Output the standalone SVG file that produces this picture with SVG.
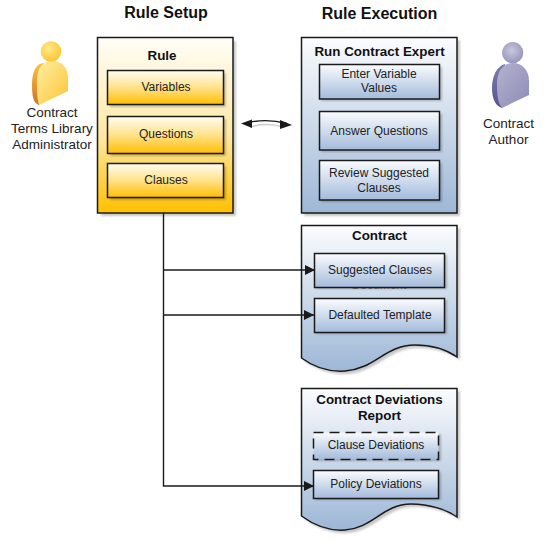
<svg xmlns="http://www.w3.org/2000/svg" width="555" height="543" viewBox="0 0 555 543">
<style>
text{font-family:"Liberation Sans",Arial,sans-serif;font-size:12px;fill:#222;text-anchor:middle}
.h{font-size:16px;font-weight:bold;fill:#111}
.t{font-size:13.4px;font-weight:bold;fill:#111}
.p{font-size:13.5px}
.box{stroke:#1a1a1a;stroke-width:1.5}
.y1{fill:url(#yOuter)}.y2{fill:url(#yInner)}
.b1{fill:url(#bOuter)}.b2{fill:url(#bInner)}
.sh{fill:#000;opacity:.22;filter:url(#blur)}
.c{fill:none;stroke:#1a1a1a;stroke-width:1.4}
</style>
<defs>
<filter id="blur" x="-10%" y="-10%" width="120%" height="120%"><feGaussianBlur stdDeviation="0.8"/></filter>
<linearGradient id="yOuter" x1="0" y1="0" x2="0" y2="1"><stop offset="0" stop-color="#fffef8"/><stop offset=".55" stop-color="#ffe9a6"/><stop offset="1" stop-color="#ffc000"/></linearGradient>
<linearGradient id="yInner" x1="0" y1="0" x2="0" y2="1"><stop offset="0" stop-color="#fffdf2"/><stop offset=".5" stop-color="#ffe28a"/><stop offset="1" stop-color="#ffbe00"/></linearGradient>
<linearGradient id="bOuter" x1="0" y1="0" x2="0" y2="1"><stop offset="0" stop-color="#fbfcfe"/><stop offset="1" stop-color="#9db7d6"/></linearGradient>
<linearGradient id="bInner" x1="0" y1="0" x2="0" y2="1"><stop offset="0" stop-color="#fbfcfe"/><stop offset="1" stop-color="#a3bbdb"/></linearGradient>
<linearGradient id="yBody" x1="0" y1="0" x2="1" y2="1"><stop offset="0" stop-color="#ffeea6"/><stop offset="1" stop-color="#fdc531"/></linearGradient>
<linearGradient id="ySide" x1="0" y1="0" x2="0" y2="1"><stop offset="0" stop-color="#fcc53a"/><stop offset="1" stop-color="#d0702a"/></linearGradient>
<radialGradient id="yHead" cx=".4" cy=".35" r=".7"><stop offset="0" stop-color="#ffe98e"/><stop offset="1" stop-color="#fcc32b"/></radialGradient>
<linearGradient id="pBody" x1="0" y1="0" x2="1" y2="1"><stop offset="0" stop-color="#b4b3cf"/><stop offset="1" stop-color="#8c8bb5"/></linearGradient>
<linearGradient id="pSide" x1="0" y1="0" x2="0" y2="1"><stop offset="0" stop-color="#7e7db0"/><stop offset="1" stop-color="#55548f"/></linearGradient>
<radialGradient id="pHead" cx=".45" cy=".4" r=".7"><stop offset="0" stop-color="#c9c8dd"/><stop offset="1" stop-color="#8e8db6"/></radialGradient>
<marker id="a" markerWidth="12" markerHeight="10" refX="10" refY="5" orient="auto" markerUnits="userSpaceOnUse"><path d="M0 0L10 5L0 10Z" fill="#1a1a1a"/></marker>
</defs>

<text class="h" x="166" y="18">Rule Setup</text>
<text class="h" x="379.500" y="19">Rule Execution</text>

<g id="admin">
<path d="M39 105C33 103 32 96 32 84C32 72 36 63 44 63L50 90Z" fill="url(#ySide)"/>
<path d="M39 105L68 91V78C68 66 60 61 52 61C43 61 37 68 37 80C37 92 37 99 39 105Z" fill="url(#yBody)"/>
<circle cx="51" cy="51.500" r="10.300" fill="url(#yHead)"/>
<text class="p" x="52" y="117">Contract</text>
<text class="p" x="52" y="133">Terms Library</text>
<text class="p" x="52" y="149">Administrator</text>
</g>

<g id="author">
<path d="M502 108C496 106 492 100 492 88C492 76 497 66 505 64L512 90Z" fill="url(#pSide)"/>
<path d="M502 108L529 95V81C529 70 522 63 513 63C503 63 497 71 497 84C497 96 498 103 502 108Z" fill="url(#pBody)"/>
<circle cx="512.700" cy="52.700" r="10.600" fill="url(#pHead)"/>
<text class="p" x="508.500" y="128">Contract</text>
<text class="p" x="508.500" y="144">Author</text>
</g>

<g id="rule">
<rect class="sh" x="101" y="41" width="135" height="175"/>
<rect class="box y1" x="97.500" y="37.500" width="135.500" height="175.500"/>
<text class="t" x="162" y="60">Rule</text>
</g>
<g id="variables"><rect class="sh" x="110" y="73" width="116" height="34"/><rect class="box y2" x="107.500" y="70.500" width="116" height="34"/><text x="166" y="91">Variables</text></g>
<g id="questions"><rect class="sh" x="110" y="119" width="116" height="37"/><rect class="box y2" x="107.500" y="116.500" width="116" height="37"/><text x="166" y="138">Questions</text></g>
<g id="clauses"><rect class="sh" x="110" y="166" width="116" height="34"/><rect class="box y2" x="107.500" y="163.500" width="116" height="34"/><text x="166" y="184">Clauses</text></g>

<g id="run-contract-expert">
<rect class="sh" x="304" y="40" width="156" height="176"/>
<rect class="box b1" x="301.500" y="37.500" width="155.500" height="175.500"/>
<text class="t" x="379.500" y="56">Run Contract Expert</text>
</g>
<g id="enter-values"><rect class="sh" x="321" y="67" width="121" height="34"/><rect class="box b2" x="319.500" y="64.500" width="120" height="34.500"/><text x="379" y="78">Enter Variable</text><text x="379" y="92">Values</text></g>
<g id="answer-questions"><rect class="sh" x="321" y="114" width="121" height="38"/><rect class="box b2" x="319.500" y="111.500" width="120" height="38.500"/><text x="379" y="135">Answer Questions</text></g>
<g id="review-clauses"><rect class="sh" x="321" y="163" width="121" height="39"/><rect class="box b2" x="319.500" y="160.500" width="120" height="39.500"/><text x="379" y="177">Review Suggested</text><text x="379" y="192">Clauses</text></g>

<g id="contract">
<path class="sh" d="M304 228H460V360C450 353 435 348 418 348C388 348 378 372 348 374C333 375 318 371 304 361Z"/>
<path class="box b1" d="M301.500 225.500H457V357C447 350 432 345 415 345C385 345 375 369 345 371C330 372 315 368 301.500 358Z"/>
<text class="t" x="379.500" y="240">Contract</text>
<text x="379" y="289" style="fill:#888">Document</text>
</g>
<g id="suggested-clauses"><rect class="sh" x="316" y="255" width="131" height="34"/><rect class="box b2" x="314.500" y="253.500" width="130" height="34"/><text x="380" y="274">Suggested Clauses</text></g>
<g id="defaulted-template"><rect class="sh" x="316" y="300" width="131" height="34"/><rect class="box b2" x="314.500" y="298.500" width="130" height="34"/><text x="380" y="319">Defaulted Template</text></g>

<g id="deviations-report">
<path class="sh" d="M304 391H460V520C450 513 433 507 414 507C386 507 376 531 348 533C333 534 318 529 304 519Z"/>
<path class="box b1" d="M301.500 388.500H457V517C447 510 430 504 411 504C383 504 373 528 345 530C330 531 315 526 301.500 516Z"/>
<text class="t" x="379.500" y="404">Contract Deviations</text>
<text class="t" x="379.500" y="420">Report</text>
</g>
<g id="clause-deviations"><rect class="sh" x="316" y="434" width="125" height="27"/><rect class="box b2" x="313.500" y="432.500" width="125" height="27" stroke-dasharray="10 6"/><text x="376" y="449">Clause Deviations</text></g>
<g id="policy-deviations"><rect class="sh" x="316" y="472" width="125" height="28"/><rect class="box b2" x="313.500" y="470.500" width="125" height="28"/><text x="376" y="488">Policy Deviations</text></g>

<g id="connectors">
<path class="c" d="M163.500 213V486H314" marker-end="url(#a)"/>
<path class="c" d="M163.500 270H315" marker-end="url(#a)"/>
<path class="c" d="M163.500 315H314" marker-end="url(#a)"/>
<path d="M250 127Q266 122 283 127" fill="none" stroke="#000" stroke-opacity=".2" stroke-width="1.400"/>
<path class="c" d="M246 123Q266 118 287 123.500"/>
<path d="M241 123.500L252 119.500V128Z" fill="#1a1a1a"/>
<path d="M292 125L280 120V129Z" fill="#1a1a1a"/>
</g>
</svg>
